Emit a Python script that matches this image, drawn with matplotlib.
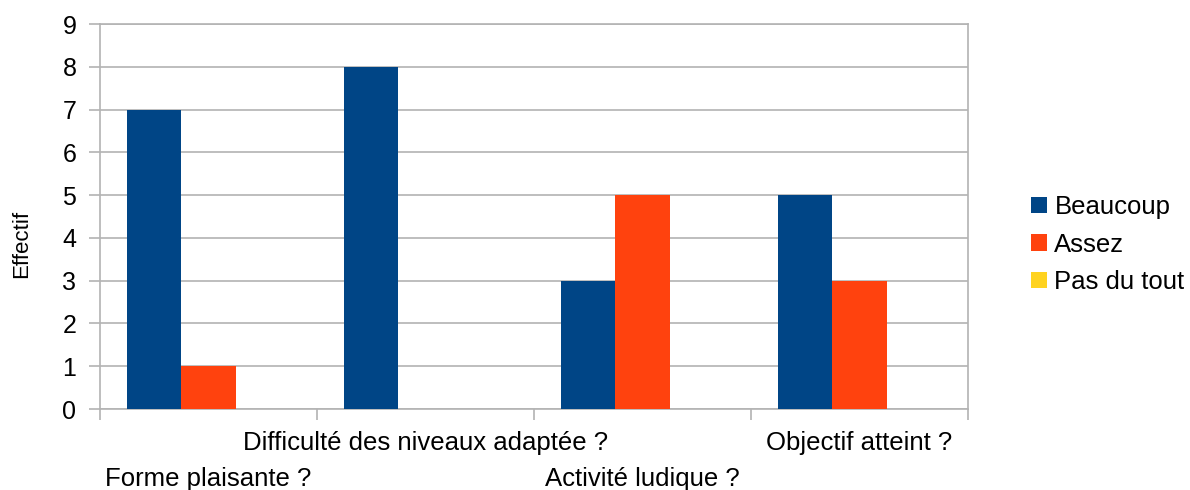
import matplotlib.pyplot as plt
import numpy as np

plt.rcParams['font.family'] = ['Liberation Sans', 'DejaVu Sans']

categories = ['Forme plaisante ?', 'Difficulté des niveaux adaptée ?',
              'Activité ludique ?', 'Objectif atteint ?']
beaucoup = [7, 8, 3, 5]
assez = [1, 0, 5, 3]
pas_du_tout = [0, 0, 0, 0]

series = [('Beaucoup', beaucoup, '#004586'),
          ('Assez', assez, '#ff420e'),
          ('Pas du tout', pas_du_tout, '#ffd320')]

grid_col = '#b3b3b3'

fig = plt.figure(figsize=(11.9, 4.9), dpi=100)
ax = fig.add_axes([100/1190, 81/490, 868/1190, 385/490])

x = np.arange(len(categories)) + 0.5
w = 0.25
for i, (name, vals, col) in enumerate(series):
    ax.bar(x + (i - 1) * w, vals, width=w, color=col, label=name, zorder=3)

ax.set_xlim(0, len(categories))
ax.set_ylim(0, 9)
ax.set_yticks(range(0, 10))
ax.yaxis.grid(True, color=grid_col, linewidth=1.2, zorder=0)

# category boundaries as tick marks, labels on the centers
ax.set_xticks(np.arange(len(categories) + 1))
ax.set_xticklabels([])
ax.set_xticks(x, minor=True)
ax.set_xticklabels(categories, minor=True)
ax.tick_params(axis='x', which='major', length=8, width=1.2, color=grid_col, direction='out')
ax.tick_params(axis='x', which='minor', length=0, labelsize=18.5)
ax.tick_params(axis='y', length=8, width=1.2, color=grid_col, labelsize=18, pad=9)
for i, t in enumerate(ax.xaxis.get_minor_ticks()):
    t.set_pad(42 if i % 2 == 0 else 16)

for s in ax.spines.values():
    s.set_color(grid_col)
    s.set_linewidth(1.2)

ax.set_ylabel('Effectif', fontsize=16)
ax.yaxis.set_label_coords(-0.078, 0.43)

fig.legend(loc='upper left', bbox_to_anchor=(1021/1190, 1 - 185/490),
           frameon=False, fontsize=18.5, handlelength=0.6, handleheight=0.6,
           handletextpad=0.3, labelspacing=0.52, borderaxespad=0)

fig.savefig('out.png', dpi=100)
